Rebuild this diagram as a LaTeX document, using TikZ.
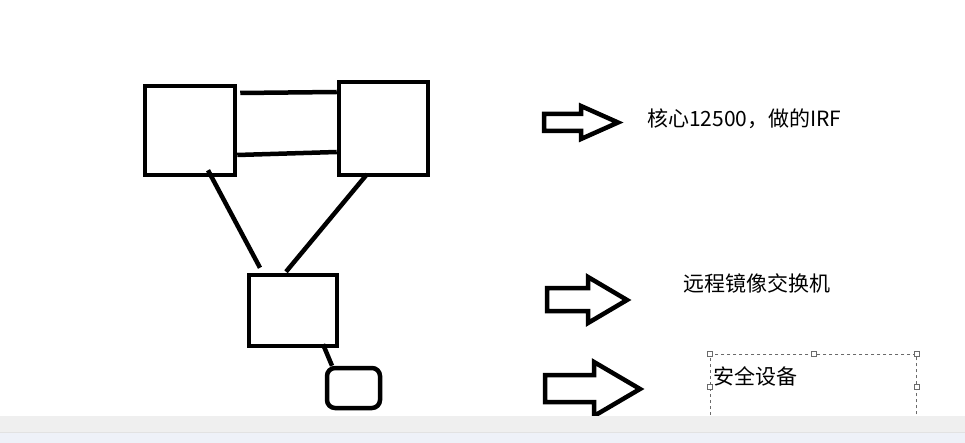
\documentclass[tikz,border=0pt]{standalone}
\usepackage{fontspec}
\newfontfamily\cjk{Noto Sans CJK SC}
\usetikzlibrary{calc}

\definecolor{bargrey}{HTML}{EFEFEF}
\definecolor{barblue}{HTML}{EEF1F8}
\definecolor{barline}{HTML}{E2E2E2}
\definecolor{selgrey}{HTML}{6A6A6A}

\begin{document}
\begin{tikzpicture}[
    x=1pt, y=-1pt,
    box/.style={rectangle, draw, line width=4.5pt, inner sep=0pt},
    link/.style={line width=4.5pt},
    bigarrow/.style={draw, line width=4.5pt, line join=miter},
    note/.style={anchor=west, inner sep=0pt, font=\cjk\fontsize{21}{25}\selectfont},
    grip/.style={rectangle, draw=selgrey, fill=white, line width=0.8pt, minimum size=5pt, inner sep=0pt}
]
    \useasboundingbox (0,0) rectangle (965,443);

    % Core pair
    \node[box, minimum width=90pt, minimum height=89pt] (core1) at (190,130.5) {};
    \node[box, minimum width=89pt, minimum height=93pt] (core2) at (383.5,128.5) {};

    % Mirror switch and security device
    \node[box, minimum width=88pt, minimum height=71pt] (mirror) at (293,310.5) {};
    \node[box, rounded corners=8pt, minimum width=53pt, minimum height=40pt] (secdev) at (353.5,388) {};

    % Links
    \draw[link] ($(core1.east)+(3,-37.5)$) -- ($(core2.west)+(0,-36.5)$);
    \draw[link] ($(core1.east)+(0,24.5)$) -- ($(core2.west)+(0,23.5)$);
    \draw[link] ($(core1.south)+(18,-7)$) -- ($(mirror.north)+(-33,-5)$);
    \draw[link] ($(core2.south)+(-16.5,-3)$) -- ($(mirror.north)+(-7,-1)$);
    \draw[link] ($(mirror.south)+(30,-4)$) -- ($(secdev.north)+(-21.5,0)$);

    % Block arrows
    \draw[bigarrow] (544,114) -- (581,114) -- (581,106) -- (618,122.5)
        -- (581,139) -- (581,131) -- (544,131) -- cycle;
    \draw[bigarrow] (547,288) -- (588,288) -- (588,277) -- (627,300)
        -- (588,323) -- (588,311) -- (547,311) -- cycle;
    \draw[bigarrow] (545,375) -- (594,375) -- (594,362) -- (640,389)
        -- (594,416) -- (594,402) -- (545,402) -- cycle;

    % Notes
    \node[note] (txtcore) at (647,119) {核心12500，做的IRF};
    \node[note] (txtmirror) at (683,283) {远程镜像交换机};
    \node[note] (txtsec) at (713,376) {安全设备};

    % Selected text frame
    \node[rectangle, draw=selgrey, dashed, line width=0.8pt, anchor=north west,
          minimum width=206pt, minimum height=64pt, inner sep=0pt] (frame) at (710,354) {};
    \foreach \a in {north west, north, north east, west, east, south west, south, south east}
        \node[grip] at (frame.\a) {};

    % Bottom bar
    \fill[bargrey] (0,416) rectangle (965,432);
    \fill[barblue] (0,432) rectangle (965,443);
    \draw[barline, line width=0.8pt] (0,432) -- (965,432);
\end{tikzpicture}
\end{document}
